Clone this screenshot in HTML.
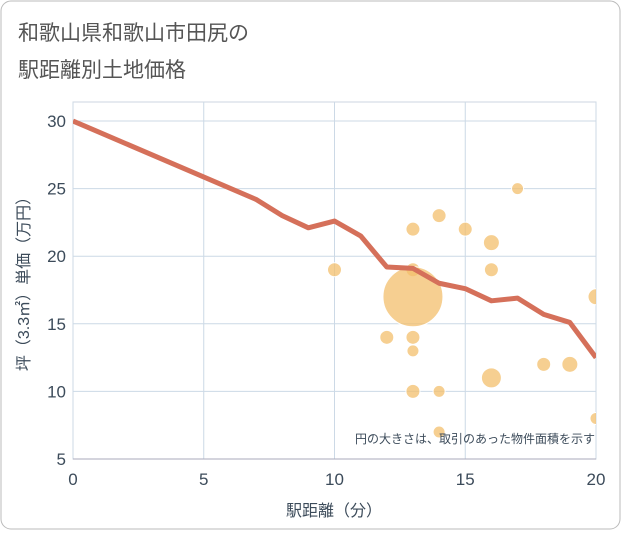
<!DOCTYPE html>
<html><head><meta charset="utf-8">
<style>
html,body{margin:0;padding:0;background:#fff;}
body{width:621px;height:530px;overflow:hidden;font-family:"Liberation Sans","Noto Sans CJK JP",sans-serif;}
</style></head>
<body>
<svg width="621" height="530" xmlns="http://www.w3.org/2000/svg">
<rect x="1" y="1" width="619" height="528" rx="10" fill="#fff" stroke="#bbb"/>
<text x="18" y="40" font-size="21" fill="#555" font-family="Liberation Sans, Noto Sans CJK JP, sans-serif">和歌山県和歌山市田尻の</text>
<text x="18" y="77" font-size="21" fill="#555" font-family="Liberation Sans, Noto Sans CJK JP, sans-serif">駅距離別土地価格</text>
<defs><clipPath id="pc"><rect x="73" y="102" width="523" height="357"/></clipPath></defs>
<g id="grid"></g>
<g id="bubbles" clip-path="url(#pc)"></g>
<g id="line" clip-path="url(#pc)"></g>
<g id="axes"></g>
<text x="595" y="443" font-size="12" fill="#3c4b5a" text-anchor="end" font-family="Liberation Sans, Noto Sans CJK JP, sans-serif">円の大きさは、取引のあった物件面積を示す</text>
<text x="334" y="516" font-size="16" fill="#3c4b5a" text-anchor="middle" font-family="Liberation Sans, Noto Sans CJK JP, sans-serif">駅距離（分）</text>
<text transform="translate(29,280) rotate(-90)" font-size="16" fill="#3c4b5a" text-anchor="middle" font-family="Liberation Sans, Noto Sans CJK JP, sans-serif">坪（3.3㎡）単価（万円）</text>
</svg>
<script>
const xTicks=[0,5,10,15,20];
const yTicks=[5,10,15,20,25,30];
const lineX=[0,7,8,9,10,11,12,13,14,15,16,17,18,19,20];
const lineY=[30,24.2,23,22.1,22.6,21.5,19.2,19.1,18,17.6,16.7,16.9,15.7,15.1,12.5];
const bubX=[10,12,13,13,13,13,13,13,14,14,14,15,16,16,16,17,18,19,20,20];
const bubY=[19,14,22,19,17,14,13,10,23,10,7,22,21,19,11,25,12,12,17,8];
const bubR=[7,7,7,7,30,7,6,7,7,6,6,7,8,7,10,6,7,8,8,6];
const NS="http://www.w3.org/2000/svg";
const sx=v=>73+v*523/20;
const sy=v=>459-(v-5)*338/25;
function mk(t,a,p){const e=document.createElementNS(NS,t);for(const k in a)e.setAttribute(k,a[k]);p.appendChild(e);return e;}
const grid=document.getElementById('grid'),axes=document.getElementById('axes');
mk('rect',{x:73,y:102,width:523,height:357,fill:'none',stroke:'#ccd6e0'},grid);
xTicks.forEach(t=>{
 const l=mk('line',{x1:sx(t),x2:sx(t),y1:102,y2:459,stroke:'#ccd9e6','stroke-width':1},grid);
 
 
 const tx=mk('text',{x:sx(t),y:485,'font-size':17,fill:'#3c4b5a','text-anchor':'middle'},axes);
 tx.textContent=t;
 
 
});
yTicks.forEach(t=>{
 const l=mk('line',{x1:73,x2:596,y1:sy(t),y2:sy(t),stroke:'#ccd9e6','stroke-width':1},grid);
 
 
 const tx=mk('text',{x:66,y:sy(t)+6,'font-size':17,fill:'#3c4b5a','text-anchor':'end'},axes);
 tx.textContent=t;
 
 
});
mk('line',{x1:73,x2:596,y1:459,y2:459,stroke:'#aab',"stroke-width":1},axes);
const bg=document.getElementById('bubbles');
bubX.forEach((x,i)=>{
 const c=mk('circle',{cx:sx(x),cy:sy(bubY[i]),r:bubR[i],fill:'#f3bf6c','fill-opacity':0.75,stroke:'#fff','stroke-width':1},bg);
 
 
});
const lg=document.getElementById('line');
const p=mk('polyline',{points:lineX.map((x,i)=>sx(x)+','+sy(lineY[i])).join(' '),fill:'none',stroke:'#d5705a','stroke-width':5,'stroke-linejoin':'round'},lg);


</script>
</body></html>
